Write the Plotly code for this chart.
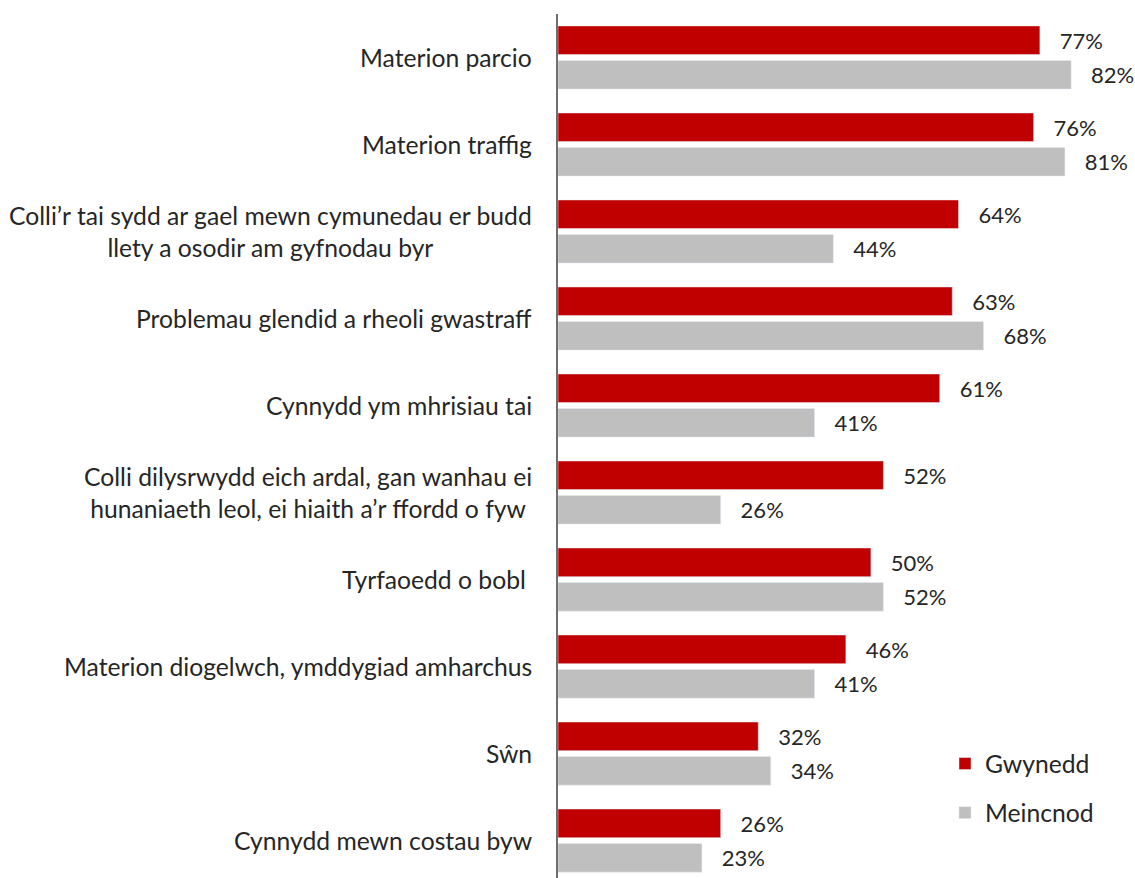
import plotly.graph_objects as go

categories = [
    "Materion parcio",
    "Materion traffig",
    "Colli’r tai sydd ar gael mewn cymunedau er budd<br>llety a osodir am gyfnodau byr",
    "Problemau glendid a rheoli gwastraff",
    "Cynnydd ym mhrisiau tai",
    "Colli dilysrwydd eich ardal, gan wanhau ei<br>hunaniaeth leol, ei hiaith a’r ffordd o fyw",
    "Tyrfaoedd o bobl ",
    "Materion diogelwch, ymddygiad amharchus",
    "Sŵn",
    "Cynnydd mewn costau byw",
]
gwynedd = [77, 76, 64, 63, 61, 52, 50, 46, 32, 26]
meincnod = [82, 81, 44, 68, 41, 26, 52, 41, 34, 23]
series_names = ["Gwynedd", "Meincnod"]

FONT = "Lato"
TXT = "#262626"
CAT_SIZE = 24.7
VAL_SIZE = 22

fig = go.Figure()
fig.add_trace(go.Bar(
    y=categories, x=gwynedd, orientation="h", name=series_names[0],
    marker=dict(color="#C00000"),
    text=[f"\u00a0\u00a0\u00a0{v}%" for v in gwynedd], textposition="outside",
    textfont=dict(family=FONT, size=VAL_SIZE, color=TXT), cliponaxis=False,
    legendgroup="a",
))
fig.add_trace(go.Bar(
    y=categories, x=meincnod, orientation="h", name=series_names[1],
    marker=dict(color="#BFBFBF"),
    text=[f"\u00a0\u00a0\u00a0{v}%" for v in meincnod], textposition="outside",
    textfont=dict(family=FONT, size=VAL_SIZE, color=TXT), cliponaxis=False,
    legendgroup="b",
))

annotations = []
for c in categories:
    annotations.append(dict(
        x=0, xref="x", y=c, yref="y", text=c, showarrow=False,
        xanchor="right", yanchor="middle", align="center", xshift=-24,
        font=dict(family=FONT, size=CAT_SIZE, color=TXT),
    ))

fig.update_layout(
    width=1135, height=878,
    margin=dict(l=558, r=0, t=14, b=0, autoexpand=False),
    paper_bgcolor="white", plot_bgcolor="white",
    barmode="group", bargap=0.207, bargroupgap=0.17,
    showlegend=True,
    legend=dict(x=0.6707, y=0.1586, xanchor="left", yanchor="top",
                font=dict(family=FONT, size=CAT_SIZE, color=TXT),
                tracegroupgap=14, bgcolor="rgba(0,0,0,0)"),
    annotations=annotations,
    uniformtext=dict(mode=False),
)
fig.update_xaxes(range=[0, 92.2], showgrid=False, showticklabels=False,
                 zeroline=False, showline=False)
fig.update_yaxes(type="category", range=[9.43, -0.5], showgrid=False,
                 showticklabels=False, showline=True, linecolor="#6E6E6E",
                 linewidth=2, ticks="")

fig.write_html(
    "out.html",
    config={"displayModeBar": False},
    post_script="document.body.style.margin='0';"
                "document.documentElement.style.overflow='hidden';"
                "document.body.style.overflow='hidden';",
)
